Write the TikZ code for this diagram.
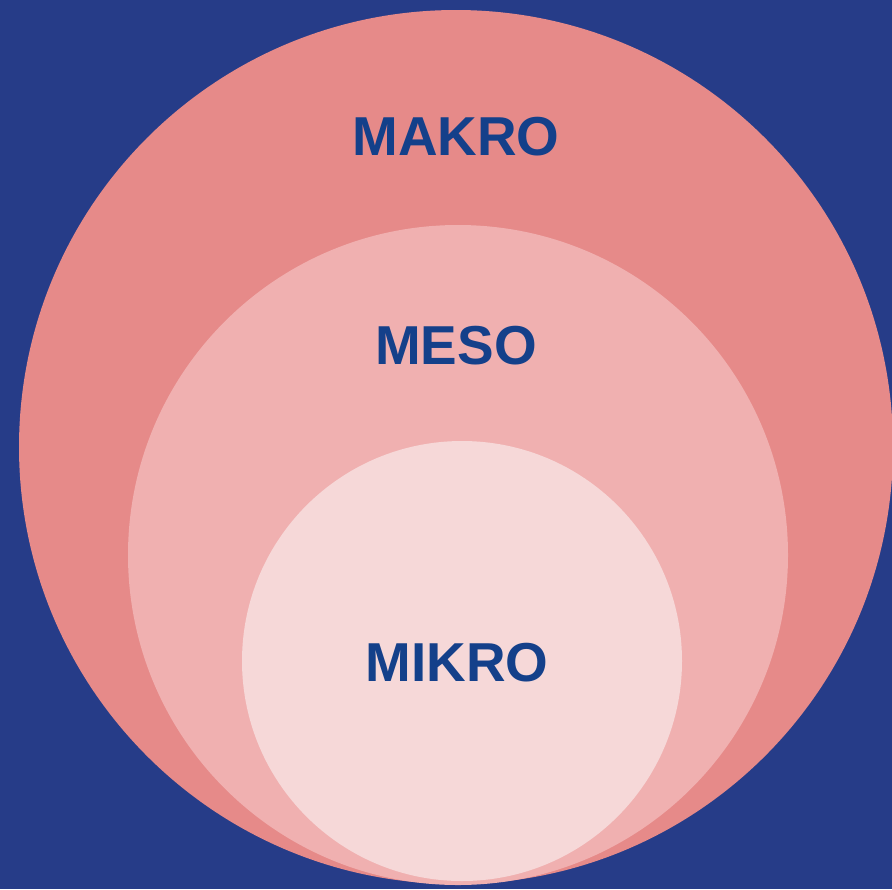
\documentclass[tikz,border=0pt]{standalone}
\usepackage{fontspec}
\setmainfont{Liberation Sans}
\definecolor{nightblue}{RGB}{38,60,136}
\definecolor{makrorose}{RGB}{230,138,137}
\definecolor{mesorose}{RGB}{240,176,176}
\definecolor{mikrorose}{RGB}{246,216,216}
\definecolor{labelblue}{RGB}{20,64,138}

\begin{document}
\begin{tikzpicture}[x=0.025cm, y=-0.025cm,
    levellabel/.style={labelblue, font=\fontsize{39}{39}\selectfont\bfseries, inner sep=0}]
    % Background
    \fill[nightblue] (0,0) rectangle (892,889);
    \useasboundingbox (0,0) rectangle (892,889);

    % Nested circles
    \fill[makrorose] (456,447) circle (437);
    \fill[mesorose] (458,555) circle (330);
    \fill[mikrorose] (462,661) circle (220);

    % Level labels
    \node[levellabel] (makro) at (456,137) {MAKRO};
    \node[levellabel] (meso) at (456,346) {MESO};
    \node[levellabel] (mikro) at (457,663) {MIKRO};
\end{tikzpicture}
\end{document}
